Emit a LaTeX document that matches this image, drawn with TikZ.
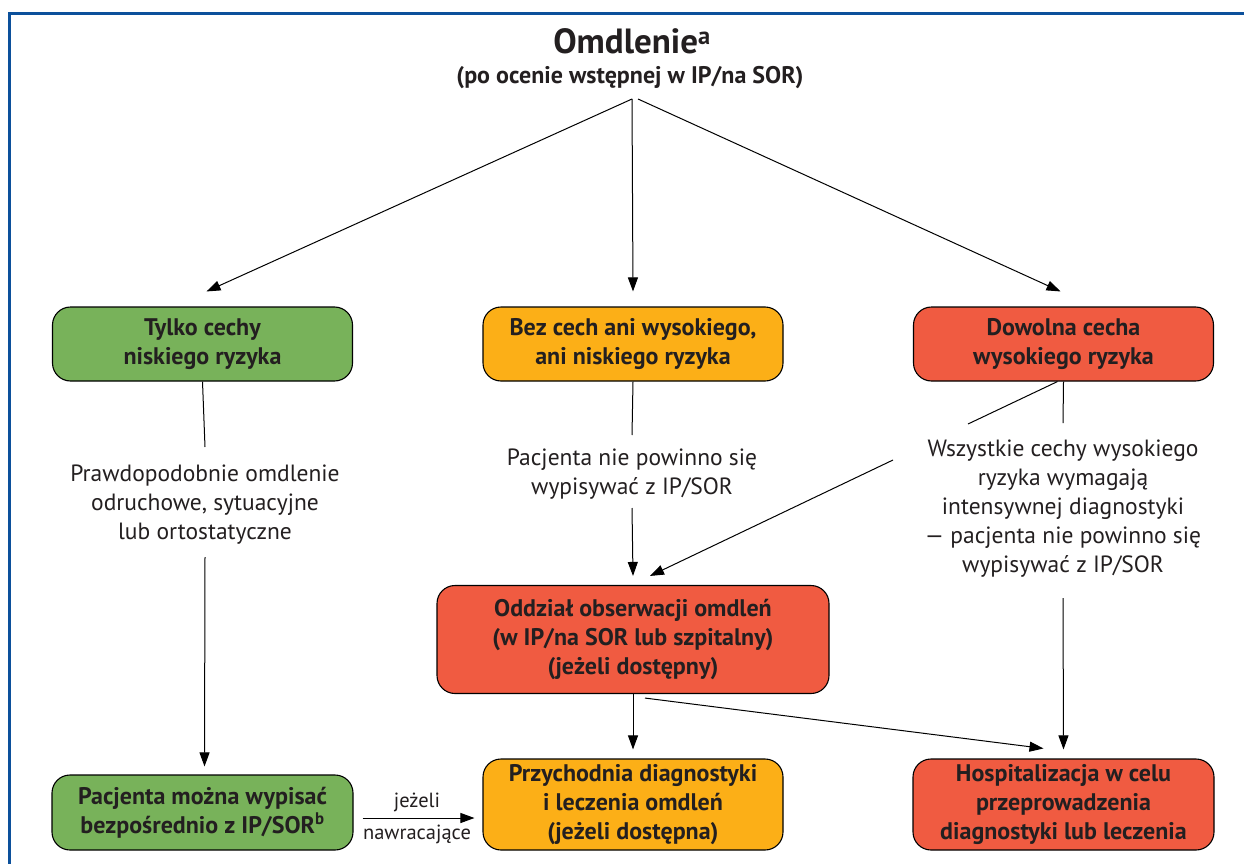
\documentclass[tikz,border=0pt]{standalone}
\usepackage{fontspec}
\setmainfont{PT Sans}
\usetikzlibrary{arrows.meta,calc}
\definecolor{cgreen}{RGB}{120,178,90}
\definecolor{corange}{RGB}{252,175,23}
\definecolor{cred}{RGB}{240,91,65}
\definecolor{cframe}{RGB}{12,80,155}
\definecolor{ctext}{RGB}{35,31,32}
\begin{document}
\begin{tikzpicture}[x=1pt,y=-1pt,
  box/.style={draw=black, line width=1.1pt, rounded corners=18pt, align=center,
    font=\fontsize{24}{29}\selectfont\bfseries, text=ctext, inner sep=0pt,
    minimum width=300pt, minimum height=74pt},
  note/.style={align=center, font=\fontsize{23.5}{29}\selectfont, text=ctext, inner sep=0pt},
  small/.style={font=\fontsize{20.5}{24}\selectfont, text=ctext, inner sep=0pt},
  arr/.style={-{Triangle[length=14pt,width=10pt]}, line width=1pt},
  ln/.style={line width=1pt}]
\useasboundingbox (0,0) rectangle (1244,864);
\fill[white] (0,0) rectangle (1244,864);
\draw[cframe, line width=3pt] (9.5,880) -- (9.5,13.5) -- (1260,13.5);

% titles
\node[font=\fontsize{35}{40}\selectfont\bfseries, text=ctext, inner sep=0pt, anchor=base] (title) at (632,54) {Omdlenie\textsuperscript{a}};
\node[font=\fontsize{24}{28}\selectfont\bfseries, text=ctext, inner sep=0pt, anchor=base] (sub) at (630,84) {(po ocenie wstępnej w IP/na SOR)};
\coordinate (src) at (632,99);

% boxes
\node[box, fill=cgreen] (gt) at (202.5,344) {Tylko cechy\\niskiego ryzyka};
\node[box, fill=corange] (ot) at (633,344) {Bez cech ani wysokiego,\\ani niskiego ryzyka};
\node[box, fill=cred] (rt) at (1063.5,344) {Dowolna cecha\\wysokiego ryzyka};
\node[box, fill=cred, minimum width=392pt, minimum height=108pt] (obs) at (633,639.5)
  {Oddział obserwacji omdleń\\(w IP/na SOR lub szpitalny)\\(jeżeli dostępny)};
\node[box, fill=cgreen, minimum width=301pt, minimum height=75pt] (gb) at (202.5,812.5) {Pacjenta można wypisać\\bezpośrednio z IP/SOR\textsuperscript{b}};
\node[box, fill=corange, minimum height=91pt] (ob) at (633,804.5) {Przychodnia diagnostyki\\i leczenia omdleń\\(jeżeli dostępna)};
\node[box, fill=cred, minimum width=301pt, minimum height=91pt] (rb) at (1063.5,804.5) {Hospitalizacja w celu\\przeprowadzenia\\diagnostyki lub leczenia};

% notes
\node[note] (lt) at (205,505) {Prawdopodobnie omdlenie\\odruchowe, sytuacyjne\\lub ortostatyczne};
\node[note] (mt) at (632,474) {Pacjenta nie powinno się\\wypisywać z IP/SOR};
\node[note] (rtx) at (1063,509) {Wszystkie cechy wysokiego\\ryzyka wymagają\\intensywnej diagnostyki\\— pacjenta nie powinno się\\wypisywać z IP/SOR};
\node[small, anchor=base] (lab1) at (417,807) {jeżeli};
\node[small, anchor=base] (lab2) at (417,839) {nawracające};

% free ends
\coordinate (l1) at (205,447);
\coordinate (l2) at (205,557);
\coordinate (m1) at (632,435);
\coordinate (m2) at (632,508);
\coordinate (r1) at (1063,423);
\coordinate (r2) at (1063,598);
\coordinate (dA) at (968,424);
\coordinate (dB) at (893,460);

% connectors
\draw[arr] (src) -- ($(gt.north)+(4,-15)$);
\draw[arr] (src) -- ($(ot.north)+(0,-15)$);
\draw[arr] ($(src)+(6,0)$) -- ($(rt.north)+(-3,-15)$);

\draw[ln] (gt.south) -- (l1);
\draw[arr] (l2) -- ($(gb.north)+(2,-8)$);

\draw[ln] (ot.south) -- (m1);
\draw[arr] (m2) -- ($(obs.north)+(0,-9)$);

\draw[ln] (rt.south) -- (r1);
\draw[arr] (r2) -- ($(rb.north)+(0,-9)$);

\draw[ln] ($(rt.south)+(-6,0)$) -- (dA);
\draw[arr] (dB) -- ($(obs.north)+(17,-9)$);

\draw[arr] (obs.south) -- ($(ob.north)+(0,-9)$);
\draw[arr] ($(obs.south)+(12,4)$) -- ($(rb.north)+(-20,-10)$);

\draw[arr] ($(gb.east)+(9,5.5)$) -- ($(ob.west)+(-8,13.5)$);
\end{tikzpicture}
\end{document}
